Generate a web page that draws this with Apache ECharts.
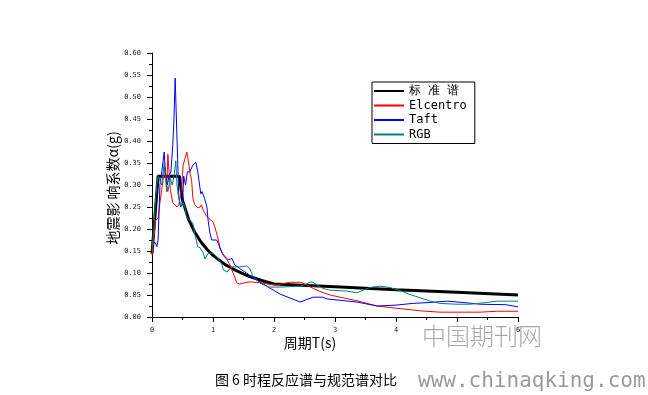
<!DOCTYPE html>
<html>
<head>
<meta charset="utf-8">
<script src="https://cdn.jsdelivr.net/npm/echarts@6/dist/echarts.min.js"></script>
<style>
html,body{margin:0;padding:0;background:#fff;}
#c{width:648px;height:395px;}
</style>
</head>
<body>
<div id="c"></div>
<script>
// ---- data ----
var seriesNames = ['标 准 谱', 'Elcentro', 'Taft', 'RGB'];
var xTickLabels = ['0', '1', '2', '3', '4', '', '6'];

var stdT = [0, 0.1, 0.45, 0.5, 0.6, 0.7, 0.8, 0.9, 1.0, 1.2, 1.4, 1.6, 1.8, 2.0, 3, 4, 5, 6];
var stdA = [0.144, 0.32, 0.32, 0.265, 0.222, 0.193, 0.171, 0.154, 0.140, 0.119, 0.104, 0.092, 0.083, 0.075, 0.069, 0.062, 0.056, 0.050];

var elT = [0, 0.03, 0.06, 0.1, 0.13, 0.16, 0.18, 0.21, 0.24, 0.26, 0.3, 0.34, 0.41, 0.44, 0.49, 0.51, 0.54, 0.57, 0.59, 0.62, 0.65, 0.67, 0.7, 0.75, 0.79, 0.81, 0.84, 0.87, 0.9, 0.95, 1.0, 1.03, 1.09, 1.11, 1.17, 1.23, 1.28, 1.33, 1.39, 1.43, 1.5, 1.6, 1.77, 1.88, 2.05, 2.26, 2.43, 2.54, 2.64, 2.75, 2.92, 3.08, 3.36, 3.69, 4.0, 4.4, 4.72, 5.38, 5.65, 6.0];
var elA = [0.14, 0.18, 0.22, 0.225, 0.26, 0.29, 0.31, 0.34, 0.285, 0.37, 0.29, 0.26, 0.25, 0.255, 0.30, 0.345, 0.36, 0.375, 0.36, 0.33, 0.31, 0.27, 0.255, 0.248, 0.25, 0.255, 0.243, 0.245, 0.228, 0.222, 0.216, 0.205, 0.175, 0.157, 0.14, 0.13, 0.118, 0.10, 0.078, 0.075, 0.077, 0.08, 0.078, 0.075, 0.073, 0.079, 0.079, 0.073, 0.065, 0.058, 0.05, 0.045, 0.037, 0.025, 0.02, 0.014, 0.011, 0.011, 0.013, 0.013];

var taftT = [0, 0.05, 0.08, 0.1, 0.13, 0.16, 0.2, 0.22, 0.25, 0.28, 0.31, 0.34, 0.36, 0.38, 0.40, 0.42, 0.44, 0.47, 0.5, 0.52, 0.55, 0.58, 0.62, 0.67, 0.72, 0.75, 0.78, 0.8, 0.82, 0.86, 0.9, 0.92, 0.95, 0.98, 1.06, 1.11, 1.15, 1.2, 1.25, 1.31, 1.36, 1.44, 1.55, 1.66, 1.8, 1.93, 2.1, 2.43, 2.64, 2.8, 2.87, 3.36, 3.69, 4.0, 4.28, 4.56, 4.84, 5.1, 5.38, 5.8, 6.0];
var taftA = [0.165, 0.17, 0.16, 0.175, 0.30, 0.33, 0.375, 0.33, 0.30, 0.32, 0.33, 0.39, 0.45, 0.543, 0.45, 0.36, 0.27, 0.25, 0.26, 0.32, 0.30, 0.33, 0.33, 0.345, 0.352, 0.33, 0.30, 0.28, 0.285, 0.27, 0.25, 0.22, 0.19, 0.175, 0.175, 0.16, 0.145, 0.137, 0.13, 0.133, 0.118, 0.11, 0.10, 0.089, 0.077, 0.066, 0.052, 0.034, 0.045, 0.045, 0.041, 0.034, 0.025, 0.027, 0.031, 0.033, 0.036, 0.033, 0.029, 0.028, 0.023];

var rgbT = [0, 0.03, 0.05, 0.08, 0.1, 0.13, 0.16, 0.2, 0.22, 0.24, 0.26, 0.3, 0.33, 0.36, 0.39, 0.41, 0.43, 0.46, 0.49, 0.51, 0.54, 0.57, 0.62, 0.67, 0.7, 0.75, 0.79, 0.84, 0.87, 0.92, 1.0, 1.03, 1.08, 1.15, 1.17, 1.23, 1.28, 1.33, 1.44, 1.55, 1.6, 1.66, 1.72, 1.77, 1.83, 1.93, 2.1, 2.43, 2.5, 2.59, 2.64, 2.7, 2.8, 2.92, 3.19, 3.36, 3.46, 3.57, 3.74, 3.9, 4.07, 4.23, 4.39, 4.56, 4.72, 5.0, 5.21, 5.49, 5.65, 6.0];
var rgbA = [0.148, 0.2, 0.25, 0.3, 0.32, 0.31, 0.30, 0.352, 0.32, 0.30, 0.285, 0.315, 0.30, 0.32, 0.355, 0.30, 0.277, 0.26, 0.255, 0.26, 0.248, 0.225, 0.22, 0.213, 0.19, 0.16, 0.157, 0.145, 0.132, 0.145, 0.145, 0.143, 0.134, 0.118, 0.107, 0.102, 0.111, 0.114, 0.114, 0.116, 0.111, 0.091, 0.084, 0.077, 0.073, 0.068, 0.068, 0.07, 0.073, 0.079, 0.079, 0.073, 0.065, 0.061, 0.059, 0.055, 0.061, 0.067, 0.07, 0.067, 0.06, 0.051, 0.044, 0.036, 0.031, 0.029, 0.029, 0.033, 0.036, 0.036];

function pairs(t, a) { return t.map(function (v, i) { return [v, a[i]]; }); }

var chart = echarts.init(document.getElementById('c'), null, { renderer: 'canvas' });
var axisCol = '#000';
var tickFont = { fontSize: 7, color: '#202040', fontFamily: 'DejaVu Sans Mono, monospace' };

chart.setOption({
  animation: false,
  backgroundColor: '#fff',
  grid: { left: 152, top: 53, width: 366, height: 264, containLabel: false },
  xAxis: {
    type: 'value', min: 0, max: 6, interval: 1,
    axisLine: { show: true, onZero: false, lineStyle: { color: axisCol, width: 1 } },
    axisTick: { show: true, length: 5, lineStyle: { color: axisCol } },
    minorTick: { show: true, splitNumber: 2, length: 3, lineStyle: { color: axisCol } },
    splitLine: { show: false },
    axisLabel: Object.assign({ margin: 10, formatter: function (v) { return xTickLabels[Math.round(v)]; } }, tickFont)
  },
  yAxis: {
    type: 'value', min: 0, max: 0.6, interval: 0.05,
    axisLine: { show: true, onZero: false, lineStyle: { color: axisCol, width: 1 } },
    axisTick: { show: true, length: 5, lineStyle: { color: axisCol } },
    minorTick: { show: true, splitNumber: 2, length: 3, lineStyle: { color: axisCol } },
    splitLine: { show: false },
    axisLabel: Object.assign({ margin: 11, formatter: function (v) { return v.toFixed(2); } }, tickFont)
  },
  legend: {
    data: seriesNames,
    orient: 'vertical',
    left: 372, top: 82,
    itemWidth: 30, itemHeight: 12, itemGap: 2.5,
    padding: [3, 8, 3, 1],
    borderColor: '#000', borderWidth: 1, borderRadius: 0,
    itemStyle: { opacity: 0 },
    textStyle: { fontSize: 12, color: '#000', fontFamily: 'DejaVu Sans Mono, monospace' }
  },
  series: [
    { name: seriesNames[0], type: 'line', symbol: 'none', data: pairs(stdT, stdA), lineStyle: { color: '#000', width: 3 }, itemStyle: { color: '#000' } },
    { name: seriesNames[1], type: 'line', symbol: 'none', data: pairs(elT, elA), lineStyle: { color: '#ff0000', width: 1 }, itemStyle: { color: '#ff0000' } },
    { name: seriesNames[2], type: 'line', symbol: 'none', data: pairs(taftT, taftA), lineStyle: { color: '#0000ff', width: 1 }, itemStyle: { color: '#0000ff' } },
    { name: seriesNames[3], type: 'line', symbol: 'none', data: pairs(rgbT, rgbA), lineStyle: { color: '#008080', width: 1 }, itemStyle: { color: '#008080' } }
  ],
  graphic: [
    { type: 'text', x: 113, y: 188, rotation: Math.PI / 2,
      style: { text: '地震影 响系数α(g)', fontSize: 14, fill: '#000', align: 'center', verticalAlign: 'middle', fontFamily: 'Noto Sans CJK SC, sans-serif' } },
    { type: 'text', x: 310, y: 343,
      style: { text: '周期T(s)', fontSize: 14, fill: '#000', align: 'center', verticalAlign: 'middle', fontFamily: 'Noto Sans CJK SC, sans-serif' } },
    { type: 'text', x: 306, y: 380,
      style: { text: '图 6 时程反应谱与规范谱对比', fontSize: 14, fill: '#000', align: 'center', verticalAlign: 'middle', fontFamily: 'Noto Sans CJK SC, sans-serif' } },
    { type: 'text', x: 482, y: 336,
      style: { text: '中国期刊网', fontSize: 24, fill: '#aaaaaa', align: 'center', verticalAlign: 'middle', fontFamily: 'Noto Sans CJK SC, sans-serif', fontWeight: 300 } },
    { type: 'text', x: 418, y: 382,
      style: { text: 'www.chinaqking.com', fontSize: 21, fill: '#9a9a9a', align: 'left', verticalAlign: 'middle', fontFamily: 'DejaVu Sans Mono, monospace' } }
  ]
});
</script>
</body>
</html>
